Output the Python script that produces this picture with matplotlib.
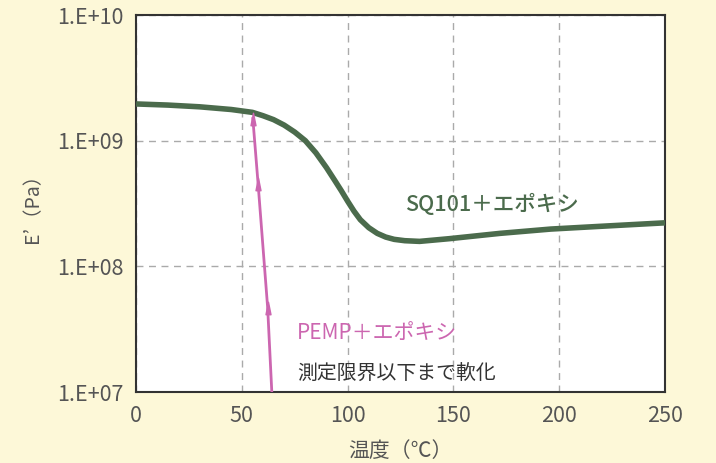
import numpy as np
import matplotlib
matplotlib.use('Agg')
import matplotlib.pyplot as plt
from matplotlib.path import Path

plt.rcParams['font.family'] = ['Noto Sans CJK JP', 'DejaVu Sans']

# SQ101＋エポキシ
sq_temp = [0, 15, 30, 45, 55, 60, 65, 70, 75, 80, 85, 90, 94, 97, 100, 103, 106, 110, 114, 118, 122, 127, 134, 148, 172, 196, 219, 250]
sq_e = [1.96e9, 1.92e9, 1.86e9, 1.77e9, 1.68e9, 1.58e9, 1.47e9, 1.33e9, 1.17e9, 1.0e9, 8.0e8, 6.1e8, 4.8e8, 4.0e8, 3.3e8, 2.75e8, 2.35e8, 2.03e8, 1.83e8, 1.71e8, 1.64e8, 1.6e8, 1.58e8, 1.66e8, 1.83e8, 1.98e8, 2.08e8, 2.22e8]

# PEMP＋エポキシ
pemp_temp = [55.2, 57.7, 62.2, 64.3]
pemp_e = [1.5e9, 4.5e8, 4.7e7, 9.0e6]
arrow_temp = [55.2, 57.7, 62.2]
arrow_e = [1.5e9, 4.5e8, 4.7e7]

x_ticks = [0, 50, 100, 150, 200, 250]
y_ticks = [1e7, 1e8, 1e9, 1e10]
y_labels = ['1.E+07', '1.E+08', '1.E+09', '1.E+10']

bg = '#fdf8d8'
green = '#4b6b4c'
pink = '#cc66b0'
tick_font = ['Liberation Sans Narrow', 'Noto Sans CJK JP', 'DejaVu Sans']

# 細長い矢じり
arrow_head = Path([(-0.4, -1.0), (0.0, 1.0), (0.4, -1.0), (-0.4, -1.0)],
                  [Path.MOVETO, Path.LINETO, Path.LINETO, Path.CLOSEPOLY])

fig = plt.figure(figsize=(7.16, 4.63), dpi=100, facecolor=bg)
ax = fig.add_axes([0.19, 0.1533, 0.7388, 0.8143])
ax.set_facecolor('white')

ax.set_yscale('log')
ax.set_xlim(0, 250)
ax.set_ylim(1e7, 1e10)

ax.plot(sq_temp, sq_e, color=green, lw=4, solid_capstyle='butt', solid_joinstyle='round', zorder=3)
ax.plot(pemp_temp, pemp_e, color=pink, lw=2, zorder=3)
ax.plot(arrow_temp, arrow_e, ls='none', marker=arrow_head, ms=9, color=pink, zorder=4)

ax.set_xticks(x_ticks)
ax.set_xticklabels([str(t) for t in x_ticks], family=tick_font, fontsize=15.5)
ax.set_yticks(y_ticks)
ax.set_yticklabels(y_labels, family=tick_font, fontsize=15.5)
ax.yaxis.set_minor_locator(matplotlib.ticker.NullLocator())
ax.tick_params(length=0, labelcolor='#555555', pad=9)

ax.grid(True, which='major', color='#aaaaaa', ls=(0, (5, 4)), lw=1)
for s in ax.spines.values():
    s.set_color('#333333')
    s.set_linewidth(1.5)

ax.set_xlabel('温度（℃）', fontsize=15, color='#555555', labelpad=10)
ax.set_ylabel('E’（Pa）', fontsize=14, color='#555555', labelpad=10)

ax.text(127, 3.08e8, 'SQ101＋エポキシ', color=green, fontsize=15.5, ha='left', va='center', fontweight='medium')
ax.text(76, 2.95e7, 'PEMP＋エポキシ', color=pink, fontsize=15, ha='left', va='center')
ax.text(76, 1.37e7, '測定限界以下まで軟化', color='#333333', fontsize=14.3, ha='left', va='center')

fig.savefig('out.png', dpi=100, facecolor=bg)
